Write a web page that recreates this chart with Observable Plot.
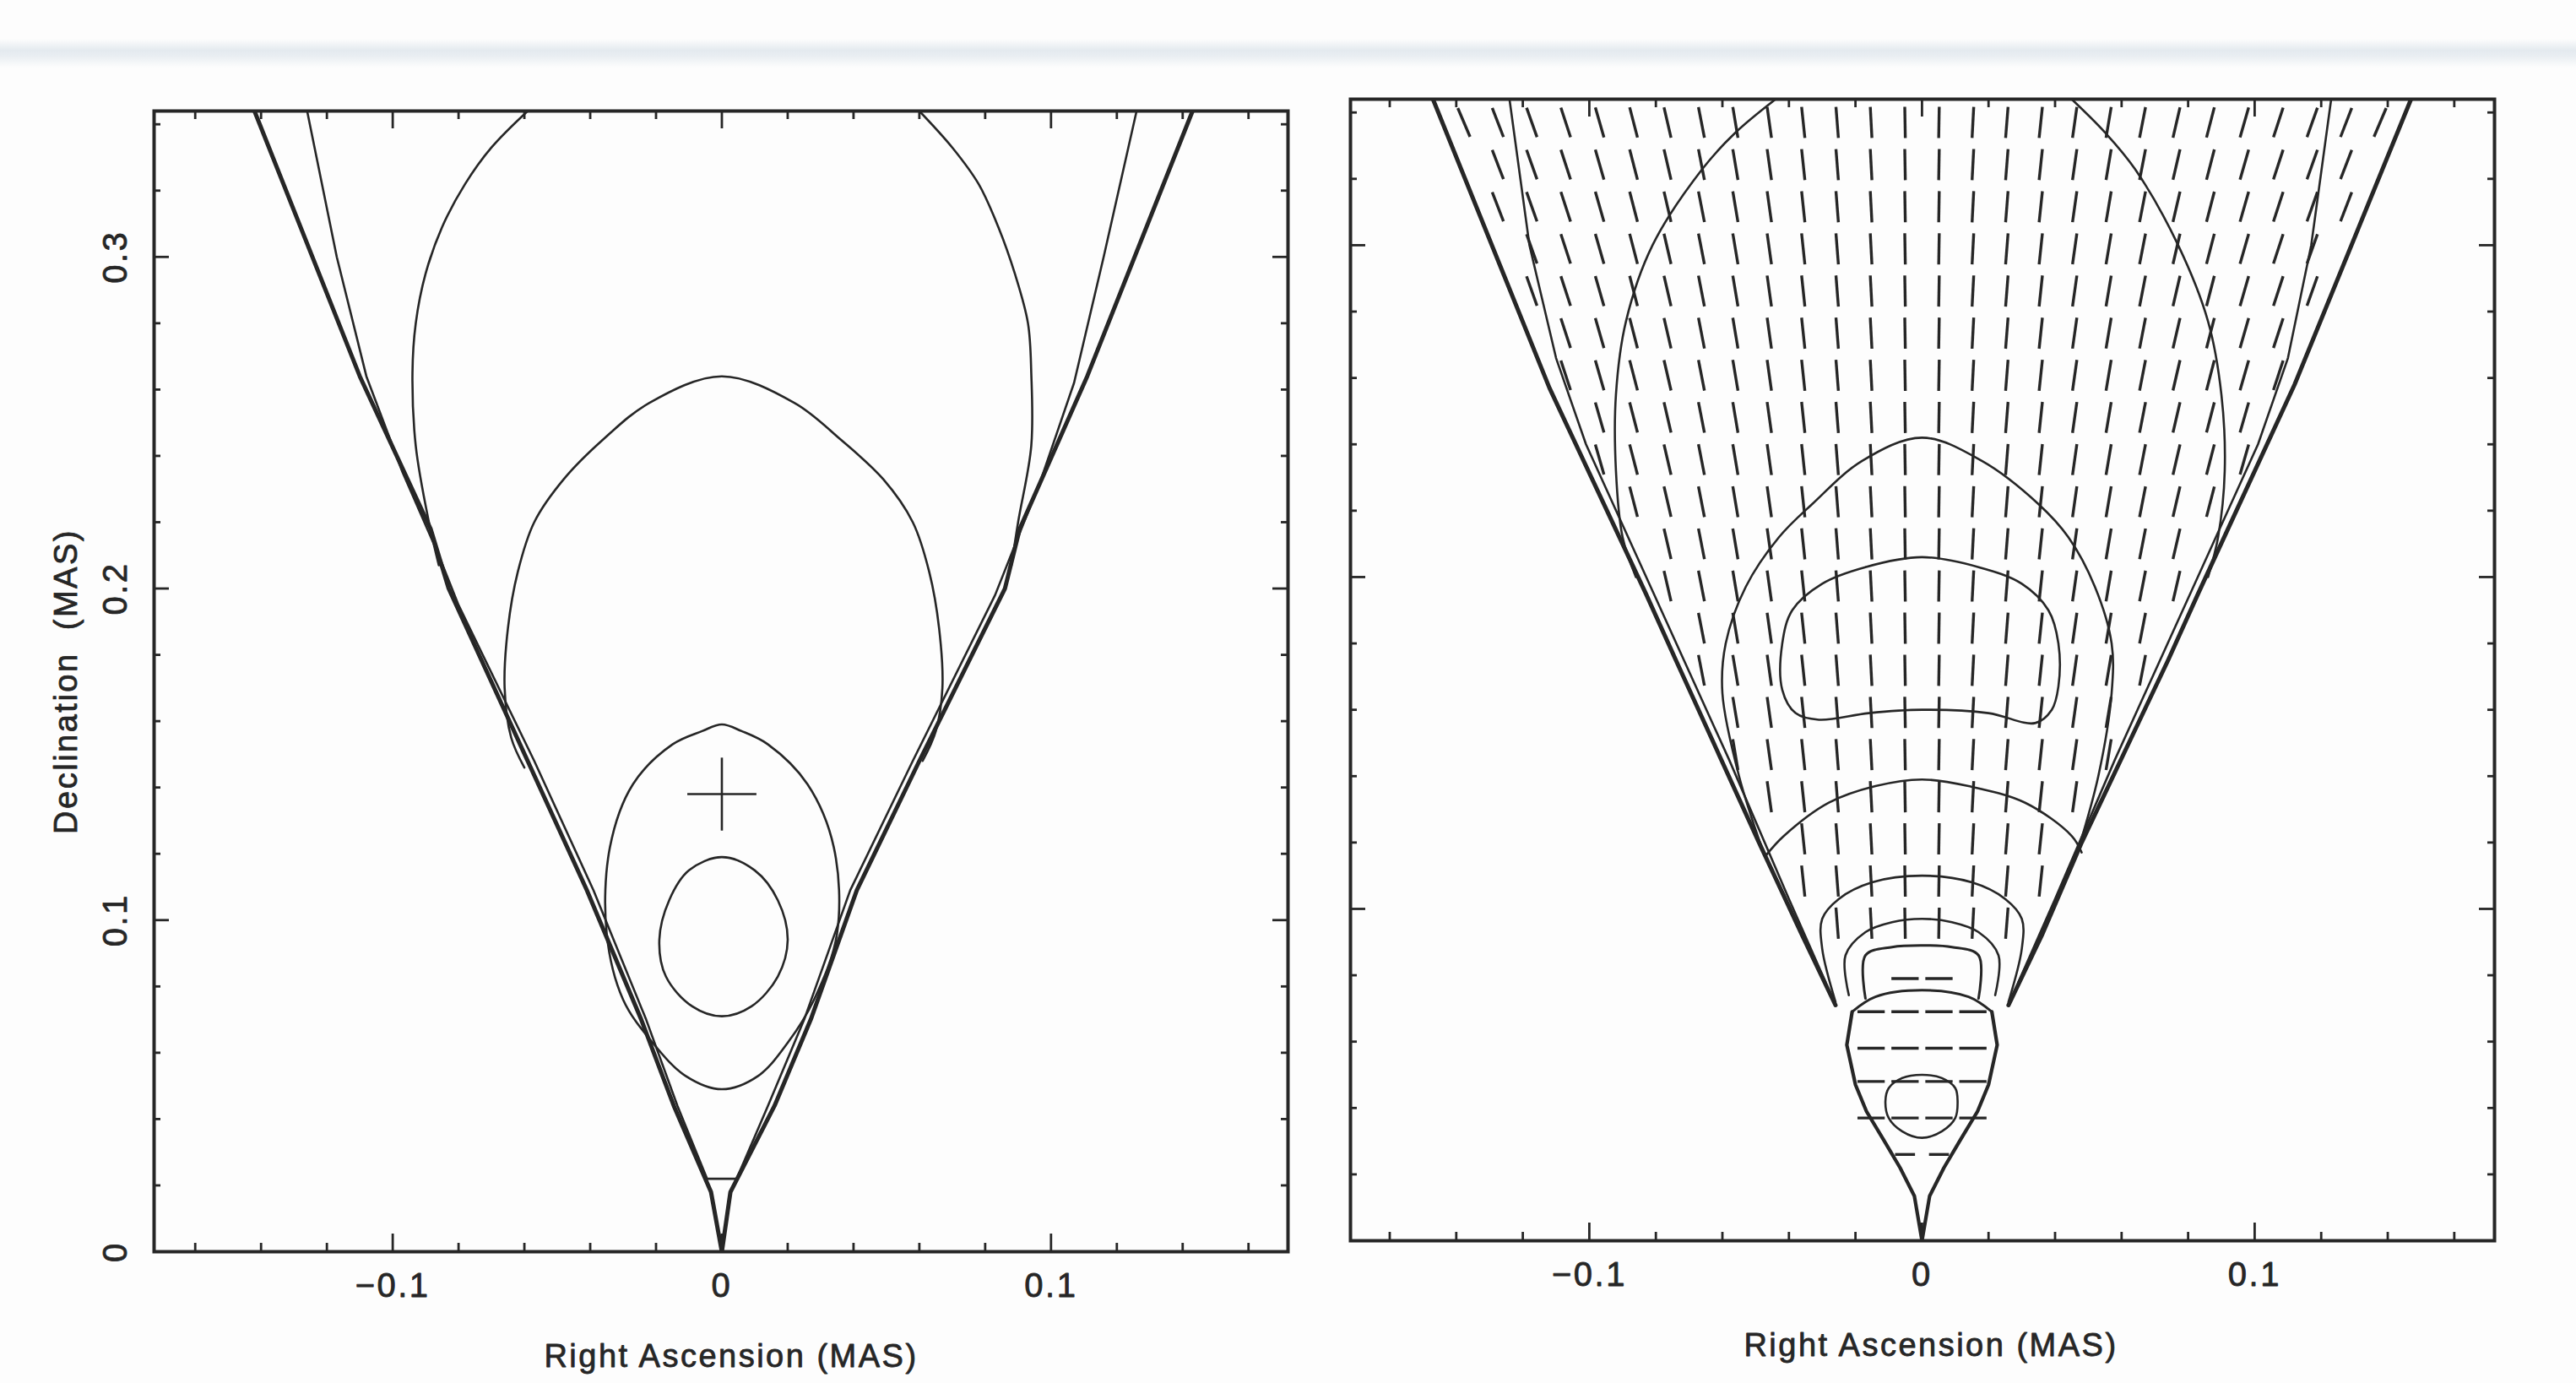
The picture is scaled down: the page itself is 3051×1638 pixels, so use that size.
<!DOCTYPE html>
<html>
<head>
<meta charset="utf-8">
<script src="https://cdn.jsdelivr.net/npm/d3@7"></script>
<script src="https://cdn.jsdelivr.net/npm/@observablehq/plot@0.6"></script>
<style>
html, body { margin: 0; padding: 0; background: #fdfdfd; }
#page { position: relative; width: 3051px; height: 1638px; overflow: hidden; background: #fdfdfd; }
#band { position: absolute; left: 0; top: 46px; width: 3051px; height: 34px;
        background: linear-gradient(#fdfdfd, #e4eaef 40%, #e9eef2 60%, #fdfdfd); }
#left { position: absolute; left: 0; top: 0; }
#right { position: absolute; left: 1560px; top: 0; }
</style>
</head>
<body>
<div id="page"><div id="band"></div><div id="left"></div><div id="right"></div></div>
<script>
// ---------- tick values & labels ----------
const xMinorTicks = [-0.16,-0.14,-0.12,-0.08,-0.06,-0.04,-0.02,0.02,0.04,0.06,0.08,0.12,0.14,0.16];
const xMajorTicks = [-0.1, 0, 0.1];
const xTickLabels = ["\u22120.1", "0", "0.1"];
const yMinorTicks = [0.02,0.04,0.06,0.08,0.12,0.14,0.16,0.18,0.22,0.24,0.26,0.28,0.32,0.34];
const yMajorTicks = [0.1, 0.2, 0.3];
const yLabelValues = [0, 0.1, 0.2, 0.3];
const yTickLabels = ["0", "0.1", "0.2", "0.3"];
const xTitle = "Right Ascension (MAS)";
const yTitle = "Declination\u00a0 (MAS)";

// ---------- left panel: total intensity contours [RA, Dec] ----------
const leftOuterV = [[-0.142,0.344],[-0.110,0.264],[-0.0885,0.218],[-0.083,0.200],[-0.059,0.148],[-0.041,0.109],[-0.0245,0.070],[-0.0146,0.044],[-0.0033,0.018],[0,0],[0.0026,0.018],[0.016,0.044],[0.027,0.070],[0.041,0.109],[0.060,0.148],[0.086,0.200],[0.0905,0.218],[0.111,0.264],[0.143,0.344]];
const leftInnerV = [[-0.126,0.344],[-0.117,0.300],[-0.108,0.264],[-0.097,0.235],[-0.086,0.210],[-0.080,0.195],[-0.057,0.148],[-0.039,0.109],[-0.023,0.070],[-0.0135,0.044],[-0.0045,0.022],[0.0045,0.022],[0.014,0.044],[0.025,0.070],[0.039,0.109],[0.058,0.148],[0.083,0.198],[0.097,0.233],[0.107,0.262],[0.116,0.300],[0.126,0.344]];
const leftOpenL = [[-0.059,0.344],[-0.070,0.333],[-0.078,0.322],[-0.085,0.309],[-0.090,0.295],[-0.093,0.280],[-0.094,0.265],[-0.093,0.243],[-0.089,0.220],[-0.086,0.207]];
const leftOpenR = [[0.060,0.344],[0.070,0.333],[0.078,0.322],[0.084,0.309],[0.089,0.295],[0.093,0.280],[0.094,0.265],[0.094,0.243],[0.090,0.220],[0.088,0.207]];
const leftLoop4 = [[-0.060,0.146],[-0.064,0.155],[-0.066,0.170],[-0.065,0.188],[-0.062,0.205],[-0.057,0.220],[-0.048,0.233],[-0.036,0.245],[-0.022,0.256],[0,0.264],[0.022,0.256],[0.036,0.245],[0.049,0.233],[0.058,0.220],[0.063,0.205],[0.066,0.188],[0.067,0.170],[0.065,0.157],[0.061,0.148]];
const leftLoop5 = [[0,0.159],[-0.006,0.157],[-0.015,0.153],[-0.027,0.141],[-0.034,0.122],[-0.035,0.096],[-0.030,0.076],[-0.021,0.063],[-0.011,0.053],[0,0.049],[0.011,0.053],[0.020,0.063],[0.028,0.076],[0.035,0.096],[0.034,0.122],[0.026,0.141],[0.014,0.153],[0.006,0.157]];
const leftLoop6 = [[0,0.119],[-0.010,0.115],[-0.016,0.106],[-0.019,0.094],[-0.017,0.083],[-0.009,0.074],[0,0.071],[0.009,0.074],[0.017,0.083],[0.020,0.094],[0.017,0.106],[0.010,0.115]];
const peakCross = [{x: 0, y: 0.138, dx: 0.0105, dy: 0.011}];

// ---------- right panel: contours [RA, Dec] ----------
const rightVL = [[-0.147,0.344],[-0.112,0.257],[-0.083,0.195],[-0.074,0.175],[-0.049,0.120],[-0.036,0.092],[-0.026,0.071]];
const rightVR = [[0.026,0.071],[0.036,0.092],[0.048,0.120],[0.074,0.175],[0.083,0.195],[0.112,0.258],[0.147,0.344]];
const rightInnerL = [[-0.124,0.344],[-0.118,0.300],[-0.110,0.266],[-0.101,0.240],[-0.082,0.198],[-0.058,0.145],[-0.040,0.103],[-0.029,0.078]];
const rightInnerR = [[0.123,0.344],[0.117,0.300],[0.110,0.266],[0.101,0.240],[0.082,0.198],[0.058,0.145],[0.040,0.103],[0.029,0.078]];
const rightCone = [[-0.021,0.069],[-0.0226,0.059],[-0.020,0.047],[-0.0167,0.039],[-0.0116,0.0305],[-0.0066,0.022],[-0.0023,0.0135],[0,0],[0.0023,0.0135],[0.0066,0.022],[0.0116,0.0305],[0.0167,0.039],[0.020,0.047],[0.0226,0.059],[0.021,0.069]];
const rightBellTop = [[-0.021,0.069],[-0.014,0.0735],[0,0.0755],[0.014,0.0735],[0.021,0.069]];
const rightBigL = [[-0.044,0.344],[-0.056,0.334],[-0.066,0.323],[-0.081,0.300],[-0.089,0.277],[-0.092,0.255],[-0.092,0.232],[-0.090,0.212],[-0.086,0.200]];
const rightBigR = [[0.045,0.344],[0.055,0.334],[0.064,0.323],[0.077,0.300],[0.086,0.277],[0.090,0.255],[0.091,0.232],[0.089,0.212],[0.086,0.200]];
const rightMid = [[-0.048,0.118],[-0.055,0.140],[-0.060,0.165],[-0.059,0.180],[-0.053,0.197],[-0.043,0.212],[-0.033,0.222],[-0.018,0.235],[0,0.242],[0.018,0.235],[0.035,0.222],[0.044,0.212],[0.052,0.197],[0.057,0.180],[0.057,0.165],[0.053,0.140],[0.047,0.118]];
const rightDome = [[0,0.206],[-0.017,0.203],[-0.030,0.198],[-0.039,0.190],[-0.042,0.180],[-0.042,0.166],[-0.038,0.159],[-0.031,0.157],[-0.016,0.159],[0,0.160],[0.020,0.159],[0.034,0.156],[0.039,0.160],[0.041,0.167],[0.041,0.180],[0.038,0.190],[0.030,0.198],[0.017,0.203]];
const rightArcA = [[-0.047,0.116],[-0.0415,0.122],[-0.028,0.132],[-0.014,0.137],[0,0.139],[0.014,0.137],[0.031,0.132],[0.045,0.122],[0.048,0.117]];
const rightArcB = [[-0.026,0.072],[-0.030,0.088],[-0.030,0.097],[-0.025,0.103],[-0.015,0.108],[0,0.110],[0.015,0.108],[0.025,0.103],[0.030,0.097],[0.030,0.088],[0.026,0.072]];
const rightArcC = [[-0.022,0.074],[-0.023,0.086],[-0.017,0.093],[-0.009,0.096],[0,0.097],[0.009,0.096],[0.017,0.093],[0.023,0.086],[0.022,0.074]];
const rightArcD = [[-0.017,0.073],[-0.017,0.086],[-0.009,0.0885],[0,0.089],[0.009,0.0885],[0.017,0.086],[0.017,0.073]];
const rightSmallLoop = [[0,0.050],[-0.006,0.049],[-0.010,0.046],[-0.011,0.042],[-0.010,0.037],[-0.006,0.033],[0,0.031],[0.006,0.033],[0.010,0.037],[0.0107,0.042],[0.010,0.046],[0.006,0.049]];

// ---------- right panel: polarisation vectors ----------
const colX = [-0.1377,-0.1275,-0.1173,-0.1071,-0.0969,-0.0867,-0.0765,-0.0663,-0.0561,-0.0459,-0.0357,-0.0255,-0.0153,-0.0051,0.0051,0.0153,0.0255,0.0357,0.0459,0.0561,0.0663,0.0765,0.0867,0.0969,0.1071,0.1173,0.1275,0.1377];
const colTilt = [-23,-21,-19.5,-18,-16,-14.5,-13,-11,-9.5,-8,-6,-4.5,-3,-1,1,3,4.5,6,8,9.5,11,13,14.5,16,18,19.5,21,23];
const vRowY = [0.337,0.3243,0.3116,0.2989,0.2862,0.2735,0.2608,0.2481,0.2354,0.2227,0.2100,0.1973,0.1846,0.1719,0.1592,0.1465,0.1338,0.1211,0.1084,0.0957];
const hRowY = [0.079,0.069,0.058,0.048,0.037,0.026];
const hRowHalfCount = [1,2,2,2,2,1];

// ---------- build ----------
const ink = "#262626";
const font = "'Liberation Sans', Arial, Helvetica, sans-serif";

const contour = (pts, w = 2.6, curve = "catmull-rom") =>
  Plot.line(pts, {x: d => d[0], y: d => d[1], stroke: ink, strokeWidth: w, curve, clip: true,
                  strokeLinejoin: "round", strokeLinecap: "round"});

function frameTicks(fw, fh) {
  const s = {stroke: ink, strokeWidth: 2.8};
  return [
    Plot.ruleX(xMinorTicks, {x: d => d, insetTop: fh - 10, ...s}),
    Plot.ruleX(xMinorTicks, {x: d => d, insetBottom: fh - 10, ...s}),
    Plot.ruleX(xMajorTicks, {x: d => d, insetTop: fh - 21, ...s}),
    Plot.ruleX(xMajorTicks, {x: d => d, insetBottom: fh - 21, ...s}),
    Plot.ruleY(yMinorTicks, {y: d => d, insetRight: fw - 8, ...s}),
    Plot.ruleY(yMinorTicks, {y: d => d, insetLeft: fw - 8, ...s}),
    Plot.ruleY(yMajorTicks, {y: d => d, insetRight: fw - 18, ...s}),
    Plot.ruleY(yMajorTicks, {y: d => d, insetLeft: fw - 18, ...s}),
    Plot.frame({stroke: ink, strokeWidth: 4})
  ];
}
const xTickData = xMajorTicks.map((v, i) => ({v, label: xTickLabels[i]}));
const yTickData = yLabelValues.map((v, i) => ({v, label: yTickLabels[i]}));
const textStyle = {fill: ink, stroke: ink, strokeWidth: 0.8};

function xLabels(dxTitle) {
  return [
    Plot.text(xTickData, {x: "v", text: "label", frameAnchor: "bottom", dy: 41, lineAnchor: "middle",
                          textAnchor: "middle", fontSize: 40, ...textStyle}),
    Plot.text([xTitle], {text: d => d, frameAnchor: "bottom", dy: 124, dx: dxTitle, lineAnchor: "middle",
                         textAnchor: "middle", fontSize: 38, ...textStyle})
  ];
}

// left panel
const W1 = 1560, H1 = 1638, m1 = {top: 131, right: 35, bottom: 156, left: 182};
const fw1 = W1 - m1.left - m1.right, fh1 = H1 - m1.top - m1.bottom;
const leftPlot = Plot.plot({
  width: W1, height: H1,
  marginTop: m1.top, marginRight: m1.right, marginBottom: m1.bottom, marginLeft: m1.left,
  x: {domain: [-0.1725, 0.172], axis: null},
  y: {domain: [0, 0.344], axis: null},
  style: {background: "transparent", fontFamily: font, color: ink, overflow: "visible"},
  marks: [
    contour(leftOuterV, 5, "linear"),
    contour(leftInnerV, 2.6, "linear"),
    contour(leftOpenL), contour(leftOpenR),
    contour(leftLoop4),
    contour(leftLoop5, 2.6, "catmull-rom-closed"),
    contour(leftLoop6, 2.6, "catmull-rom-closed"),
    Plot.link(peakCross, {x1: d => d.x - d.dx, x2: d => d.x + d.dx, y1: "y", y2: "y", stroke: ink, strokeWidth: 2.6}),
    Plot.link(peakCross, {x1: "x", x2: "x", y1: d => d.y - d.dy, y2: d => d.y + d.dy, stroke: ink, strokeWidth: 2.6}),
    ...frameTicks(fw1, fh1),
    ...xLabels(12),
    Plot.text(yTickData, {y: "v", text: "label", frameAnchor: "left", dx: -45, rotate: -90,
                          textAnchor: "middle", lineAnchor: "middle", fontSize: 40, ...textStyle}),
    Plot.text([yTitle], {text: d => d, frameAnchor: "left", dx: -104, rotate: -90,
                         textAnchor: "middle", lineAnchor: "middle", fontSize: 38, ...textStyle})
  ]
});

// right panel vectors (cells inside the jet boundary)
const halfWidth = y => {
  const pts = rightVL.slice().sort((a, b) => a[1] - b[1]);
  for (let i = 1; i < pts.length; i++) {
    if (y <= pts[i][1]) {
      const [x0, y0] = pts[i - 1], [x1, y1] = pts[i];
      return -(x0 + (x1 - x0) * (y - y0) / (y1 - y0));
    }
  }
  return -pts[pts.length - 1][0];
};
const vDash = 0.0094, hDash = 0.0082;
const dashes = [];
vRowY.forEach(y => colX.forEach((x, i) => {
  if (Math.abs(x) > halfWidth(y) - 0.0045) return;
  const t = colTilt[i] * Math.PI / 180, dx = Math.sin(t) * vDash / 2, dy = Math.cos(t) * vDash / 2;
  dashes.push({x1: x - dx, y1: y - dy, x2: x + dx, y2: y + dy});
}));
const innerCols = colX.slice().sort((a, b) => Math.abs(a) - Math.abs(b));
hRowY.forEach((y, r) => innerCols.slice(0, 2 * hRowHalfCount[r]).forEach(x => {
  const len = r === hRowY.length - 1 ? 0.006 : hDash;
  dashes.push({x1: x - len / 2, y1: y, x2: x + len / 2, y2: y});
}));

const W2 = 1491, H2 = 1638, m2 = {top: 117, right: 97, bottom: 169, left: 39};
const fw2 = W2 - m2.left - m2.right, fh2 = H2 - m2.top - m2.bottom;
const rightPlot = Plot.plot({
  width: W2, height: H2,
  marginTop: m2.top, marginRight: m2.right, marginBottom: m2.bottom, marginLeft: m2.left,
  x: {domain: [-0.1718, 0.1721], axis: null},
  y: {domain: [0, 0.344], axis: null},
  style: {background: "transparent", fontFamily: font, color: ink, overflow: "visible"},
  marks: [
    Plot.link(dashes, {x1: "x1", y1: "y1", x2: "x2", y2: "y2", stroke: ink, strokeWidth: 3.4, clip: true}),
    contour(rightVL, 5, "linear"), contour(rightVR, 5, "linear"),
    contour(rightInnerL, 2.6, "linear"), contour(rightInnerR, 2.6, "linear"),
    contour(rightCone, 4.2, "linear"),
    contour(rightBellTop, 3),
    contour(rightBigL), contour(rightBigR),
    contour(rightMid),
    contour(rightDome, 2.6, "catmull-rom-closed"),
    contour(rightArcA), contour(rightArcB), contour(rightArcC), contour(rightArcD, 3),
    contour(rightSmallLoop, 2.6, "catmull-rom-closed"),
    ...frameTicks(fw2, fh2),
    ...xLabels(10)
  ]
});

document.getElementById("left").appendChild(leftPlot);
document.getElementById("right").appendChild(rightPlot);
d3.selectAll("#page svg text").style("letter-spacing", "2.5px");
</script>
</body>
</html>
